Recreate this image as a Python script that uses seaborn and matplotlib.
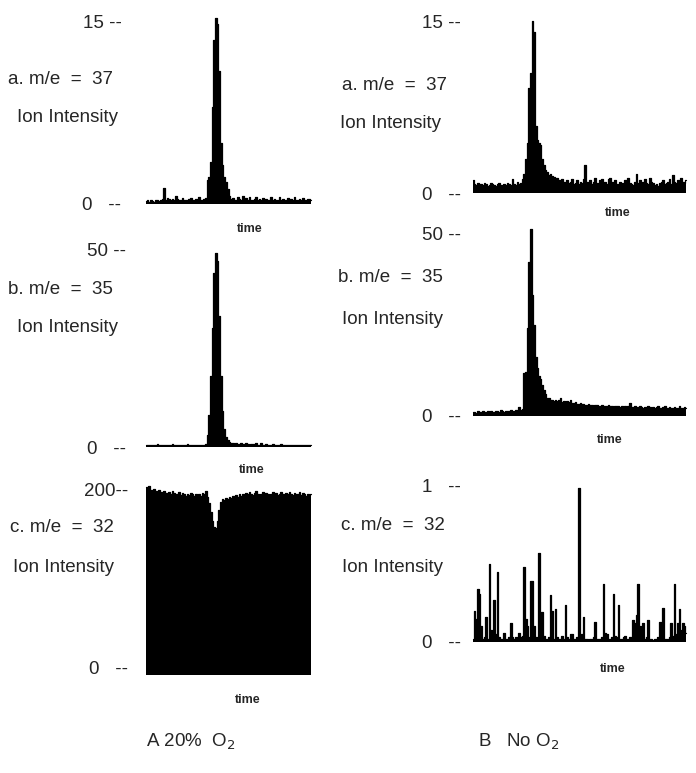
import numpy as np
import pandas as pd
import matplotlib
matplotlib.use("Agg")
import matplotlib.pyplot as plt
import seaborn as sns

sns.set_theme(style="white")
plt.rcParams["font.family"] = ["Liberation Sans", "DejaVu Sans"]

# ---------------- data ----------------
left_a_37 = [0.25, 0.3, 0.2, 0.3, 0.25, 0.2, 0.3, 0.35, 0.25, 0.3, 0.4,
             1.3,
             0.35, 0.5, 0.4, 0.3, 0.45, 0.35, 0.65, 0.4, 0.3, 0.35, 0.5, 0.3, 0.35, 0.25, 0.4,
             0.5, 0.3, 0.35, 0.45, 0.3, 0.6, 0.35, 0.3, 0.4, 0.5,
             2.0, 2.2, 3.5, 8.0, 13.5, 15.3, 14.8, 11.0, 5.0, 3.2, 2.2, 1.8, 1.2, 0.7,
             0.4, 0.5, 0.3, 0.35, 0.6, 0.4, 0.3, 0.7, 0.35, 0.5, 0.3, 0.6, 0.35, 0.3, 0.45,
             0.55, 0.3, 0.4, 0.3, 0.5, 0.25, 0.4, 0.35, 0.3, 0.55, 0.3, 0.45, 0.3, 0.35, 0.6,
             0.3, 0.4, 0.25, 0.35, 0.5, 0.3, 0.4, 0.3, 0.55, 0.35, 0.3, 0.45, 0.3, 0.5, 0.35,
             0.3, 0.45, 0.4, 0.35]

left_b_35 = [0.5, 0.6, 0.5, 0.4, 0.6, 0.5, 0.5, 0.7, 0.5, 0.4, 0.6, 0.5, 0.5, 0.6, 0.4, 0.5,
             0.7, 0.5, 0.5, 0.6, 0.4, 0.5, 0.6, 0.5, 0.5, 0.7, 0.5, 0.4, 0.6, 0.5, 0.5, 0.6,
             0.5, 0.4, 0.6, 0.5, 0.8,
             3, 8, 18, 30, 44, 49, 47, 33, 18, 9, 4.5, 2.5, 1.8, 1.2, 1.0,
             0.9, 0.8, 1.0, 0.7, 0.8, 0.9, 0.7, 0.8, 1.1, 0.7, 0.6, 0.8, 0.7, 0.6, 0.9, 0.6,
             0.5, 1.0, 0.6, 0.5, 0.7, 0.5, 0.6, 0.5, 0.7, 0.5, 0.6, 0.5, 0.5, 0.7, 0.5, 0.6,
             0.4, 0.5, 0.6, 0.5, 0.4, 0.6, 0.5, 0.5, 0.4, 0.6, 0.5, 0.4, 0.5, 0.6, 0.4, 0.5]

left_c_32 = [203, 201, 204, 200, 198, 201, 199, 197, 200, 198, 196, 199, 197, 195, 198, 196,
             199, 197, 195, 196, 198, 194, 197, 195, 193, 196, 194, 197, 195, 193, 196, 194,
             196, 193, 197, 195, 199,
             192, 185, 175, 165, 158, 157, 165, 178, 186, 190,
             189, 191, 190, 192, 191, 193, 190, 194, 192, 195, 193, 196, 194, 197, 195, 198,
             196, 194, 197, 199, 195, 193, 196, 198, 194, 197, 195, 193, 196, 198, 195, 197,
             194, 196, 198, 195, 193, 197, 195, 198, 196, 194, 197, 195, 196, 198, 194, 197,
             195, 193, 196, 194, 195]

right_a_37 = [1.1, 0.8, 0.7, 0.9, 0.6, 0.8, 0.7, 0.9, 0.8, 0.6, 0.7, 0.9, 0.8, 0.7, 0.6, 0.8,
              0.9, 0.7, 0.6, 0.8, 0.7, 0.9, 0.8, 0.7, 1.2, 0.8, 0.7, 1.0, 0.8, 0.9, 1.2,
              1.7, 3.0, 4.4, 9.2, 10.5, 15.0, 14.0, 5.8, 4.6, 4.4, 4.2, 3.0, 2.4, 2.0, 1.8,
              1.6, 1.7, 1.5, 1.4, 1.3,
              1.3, 1.1, 0.9, 1.2, 1.0, 0.8, 1.1, 0.9, 1.0, 1.2, 0.8, 0.9, 1.1, 0.8, 1.0, 0.9,
              1.2, 2.4, 1.0, 0.9, 1.1, 0.8, 1.0, 1.3, 0.9, 0.8, 1.1, 1.2, 0.9, 1.0, 0.8, 1.2,
              1.3, 1.0, 0.9, 1.1, 0.8, 0.7, 1.0, 0.9, 0.8, 1.1, 1.0, 1.3, 0.9, 0.8, 0.7, 1.0,
              1.7, 0.9, 1.1, 0.8, 1.0, 1.2, 0.9, 0.8, 1.3, 1.0, 0.9, 0.7, 0.8, 0.6, 0.9, 1.0,
              1.1, 0.8, 0.9, 1.0, 1.2, 0.8, 1.6, 1.0, 0.9, 1.1, 0.8, 1.3, 1.0, 0.9, 1.1]

right_b_35 = [1.0, 1.2, 0.9, 1.3, 1.1, 1.0, 1.4, 1.2, 1.1, 1.3, 1.0, 1.5, 1.2, 1.1, 1.4, 1.3,
              1.2, 1.6, 1.3, 1.2, 1.5, 1.4, 1.3, 1.6, 1.5, 1.4, 1.7, 1.5, 2.5, 1.6, 1.8,
              11.7, 12, 24, 42, 51, 33, 25, 16, 13, 11, 10, 8.5, 7, 6, 5, 4.8, 4.5, 4.3, 4.2, 4.4,
              4.0, 4.3, 5.0, 3.9, 4.1, 3.8, 4.0, 3.7, 4.5, 3.6, 3.5, 3.7, 3.4, 3.3, 3.5, 3.2,
              3.4, 3.1, 3.0, 3.2, 2.9, 3.1, 2.8, 3.0, 2.9, 2.7, 2.8, 3.0, 2.6, 2.8, 2.7, 2.9,
              2.6, 2.8, 2.5, 2.7, 2.6, 2.8, 2.5, 2.6, 2.4, 2.7, 2.5, 2.6, 3.5, 2.5, 2.4, 2.6,
              2.3, 2.5, 2.7, 2.4, 2.3, 2.5, 2.2, 2.6, 2.4, 2.3, 2.5, 2.2, 2.4, 2.6, 2.3, 2.2,
              2.4, 2.8, 2.3, 2.2, 2.4, 2.1, 2.3, 2.5, 2.2, 2.1, 2.6, 2.3, 2.2, 2.4, 2.2]

right_c_32 = [0.02, 0.2, 0.15, 0.34, 0.31, 0.1, 0.02, 0.03, 0.16, 0.02,
              0.5, 0.08, 0.03, 0.27, 0.05, 0.45, 0.03, 0.02, 0.02, 0.06,
              0.02, 0.02, 0.03, 0.12, 0.03, 0.02, 0.03, 0.02, 0.06, 0.03,
              0.04, 0.48, 0.15, 0.1, 0.03, 0.39, 0.39, 0.1, 0.03, 0.02,
              0.57, 0.1, 0.19, 0.04, 0.02, 0.02, 0.03, 0.3, 0.2, 0.02,
              0.21, 0.03, 0.02, 0.02, 0.04, 0.02, 0.24, 0.03, 0.02, 0.05,
              0.05, 0.02, 0.02, 0.03, 0.99, 0.03, 0.05, 0.16, 0.02, 0.02,
              0.01, 0.02, 0.02, 0.03, 0.13, 0.02, 0.02, 0.02, 0.03, 0.37,
              0.06, 0.05, 0.02, 0.02, 0.03, 0.31, 0.04, 0.03, 0.24, 0.02,
              0.02, 0.03, 0.04, 0.02, 0.02, 0.03, 0.02, 0.14, 0.12, 0.17,
              0.37, 0.1, 0.03, 0.12, 0.02, 0.03, 0.14, 0.02, 0.02, 0.01,
              0.02, 0.02, 0.03, 0.13, 0.04, 0.22, 0.02, 0.02, 0.02, 0.03,
              0.12, 0.04, 0.37, 0.05, 0.12, 0.21, 0.08, 0.12, 0.1, 0.06]

panel_labels = ["a. m/e  =  37", "b. m/e  =  35", "c. m/e  =  32"]
ylabel_text = "Ion Intensity"
xlabel_text = "time"
left_top_ticks = ["15 --", "50 --", "200--"]
right_top_ticks = ["15 --", "50 --", "1   --"]
zero_tick = "0   --"
condition_titles = ["A 20%  O$_2$", "B   No O$_2$"]

# ---------------- layout helpers ----------------
W, H = 696, 773
fig = plt.figure(figsize=(W / 100, H / 100), dpi=100, facecolor="white")


def make_axes(x0, x1, y_zero, y_top, top_val, ymin_val):
    scale = (y_zero - y_top) / top_val          # px per unit
    y_bottom = y_zero + (0 - ymin_val) * scale
    ax = fig.add_axes([x0 / W, 1 - y_bottom / H, (x1 - x0) / W, (y_bottom - y_top) / H])
    ax.set_ylim(ymin_val, top_val)
    return ax


def draw_trace(ax, values, top_val, tick_top, pad):
    t = np.arange(len(values))
    df = pd.DataFrame({"t": t, "v": values})
    sns.lineplot(data=df, x="t", y="v", ax=ax, color="black", lw=0.9,
                 drawstyle="steps-mid", clip_on=False)
    ax.fill_between(df["t"], df["v"], ax.get_ylim()[0], step="mid",
                    color="black", lw=0, clip_on=False)
    ax.set_xlim(-0.5, len(values) - 0.5)
    for s in ax.spines.values():
        s.set_visible(False)
    ax.set_xticks([])
    ax.set_yticks([0, top_val])
    ax.set_yticklabels([zero_tick, tick_top], fontsize=13.5)
    ax.tick_params(axis="y", length=0, pad=pad)
    ax.set_ylabel("")
    ax.set_facecolor("none")


# Left column (A: 20% O2)
axA1 = make_axes(145, 312, 204, 22, 15, 0)
draw_trace(axA1, left_a_37, 15, left_top_ticks[0], 17)
axA2 = make_axes(145, 312, 447, 249, 50, 0)
draw_trace(axA2, left_b_35, 50, left_top_ticks[1], 14)
axA3 = make_axes(145, 312, 668, 490, 200, -8)
draw_trace(axA3, left_c_32, 200, left_top_ticks[2], 12)

# Right column (B: No O2)
axB1 = make_axes(472, 687, 193, 21, 15, 0)
draw_trace(axB1, right_a_37, 15, right_top_ticks[0], 8)
axB2 = make_axes(472, 687, 416, 233, 50, 0)
draw_trace(axB2, right_b_35, 50, right_top_ticks[1], 8)
axB3 = make_axes(472, 687, 642, 486, 1, 0)
draw_trace(axB3, right_c_32, 1, right_top_ticks[2], 8)

# "time" labels
for ax, (xp, yp) in [(axA1, (250, 229)), (axA2, (252, 470)), (axA3, (248, 700)),
                     (axB1, (618, 213)), (axB2, (610, 440)), (axB3, (613, 669))]:
    ax.set_xlabel(xlabel_text, fontsize=9, fontweight="bold")
    fx, fy = xp / W, 1 - yp / H
    ax.xaxis.set_label_coords(fx, fy, transform=fig.transFigure)
    ax.xaxis.label.set_verticalalignment("center")


# panel texts
def ftext(x, y, s, size=13.5):
    fig.text(x / W, 1 - y / H, s, va="center", ha="left", fontsize=size)


ftext(8, 80, panel_labels[0]);  ftext(17, 117, ylabel_text)
ftext(8, 290, panel_labels[1]); ftext(17, 328, ylabel_text)
ftext(10, 527, panel_labels[2]); ftext(13, 568, ylabel_text)

ftext(342, 85, panel_labels[0]); ftext(340, 123, ylabel_text)
ftext(338, 278, panel_labels[1]); ftext(342, 320, ylabel_text)
ftext(341, 525, panel_labels[2]); ftext(342, 567, ylabel_text)

ftext(146, 742, condition_titles[0], 13.5)
ftext(478, 742, condition_titles[1], 13.5)

fig.savefig("out.png", dpi=100, facecolor="white")
